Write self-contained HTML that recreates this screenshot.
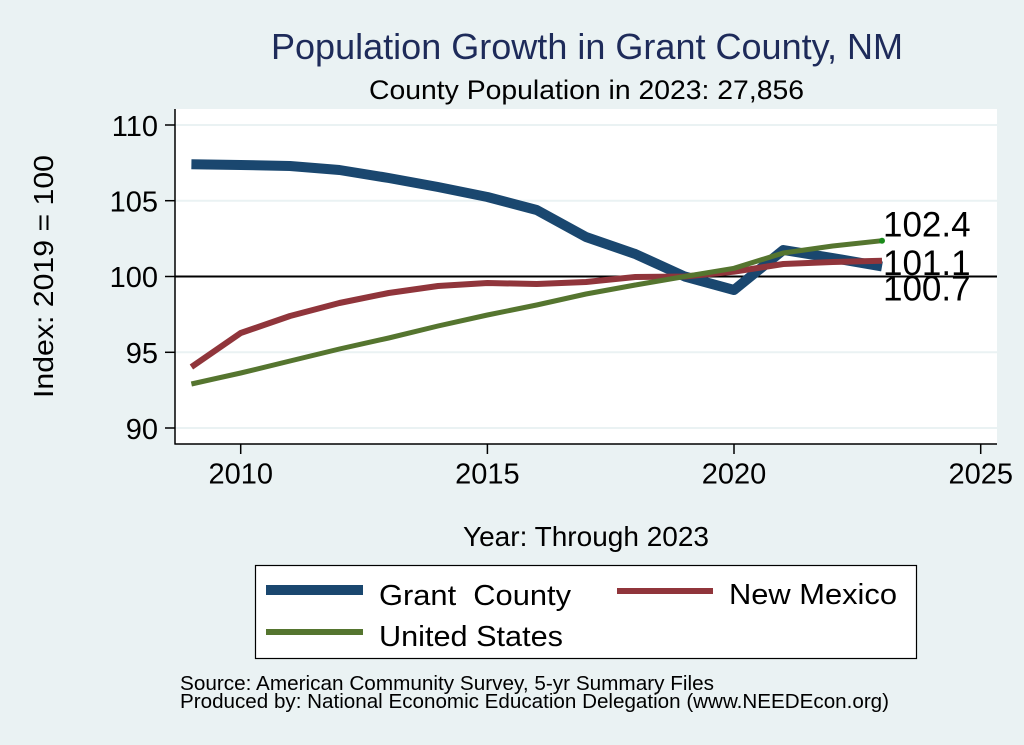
<!DOCTYPE html>
<html>
<head>
<meta charset="utf-8">
<style>
  html, body { margin:0; padding:0; background:#eaf2f3; }
  svg { display:block; }
  text { font-family: "Liberation Sans", Arial, Helvetica, sans-serif; }
</style>
</head>
<body>
<svg width="1024" height="745" viewBox="0 0 1024 745" xmlns="http://www.w3.org/2000/svg">
  <rect x="0" y="0" width="1024" height="745" fill="#eaf2f3"/>

  <!-- Title -->
  <text x="271" y="59" font-size="36" fill="#1e2b5a" textLength="632" lengthAdjust="spacingAndGlyphs">Population Growth in Grant County, NM</text>
  <text x="369" y="99" font-size="27" fill="#000" textLength="435" lengthAdjust="spacingAndGlyphs">County Population in 2023: 27,856</text>

  <!-- Plot area -->
  <rect x="175" y="109" width="822" height="335" fill="#ffffff"/>
  <!-- gridlines -->
  <g stroke="#eaf2f3" stroke-width="2">
    <line x1="175" y1="125" x2="997" y2="125"/>
    <line x1="175" y1="200.7" x2="997" y2="200.7"/>
    <line x1="175" y1="352.3" x2="997" y2="352.3"/>
    <line x1="175" y1="428" x2="997" y2="428"/>
  </g>
  <!-- y=100 reference line -->
  <line x1="175" y1="276.5" x2="997" y2="276.5" stroke="#000" stroke-width="2"/>

  <!-- axes -->
  <line x1="175" y1="109" x2="175" y2="444.5" stroke="#000" stroke-width="1.5"/>
  <line x1="174.5" y1="444" x2="997" y2="444" stroke="#000" stroke-width="1.5"/>

  <!-- y ticks -->
  <g stroke="#000" stroke-width="1.5">
    <line x1="165" y1="125" x2="175" y2="125"/>
    <line x1="165" y1="200.7" x2="175" y2="200.7"/>
    <line x1="165" y1="276.5" x2="175" y2="276.5"/>
    <line x1="165" y1="352.3" x2="175" y2="352.3"/>
    <line x1="165" y1="428" x2="175" y2="428"/>
  </g>
  <g font-size="29" fill="#000" text-anchor="end">
    <text x="158" y="136">110</text>
    <text x="158" y="211.5">105</text>
    <text x="158" y="287">100</text>
    <text x="158" y="363">95</text>
    <text x="158" y="439">90</text>
  </g>

  <!-- x ticks -->
  <g stroke="#000" stroke-width="1.5">
    <line x1="240.7" y1="444" x2="240.7" y2="454"/>
    <line x1="487.4" y1="444" x2="487.4" y2="454"/>
    <line x1="734" y1="444" x2="734" y2="454"/>
    <line x1="980.7" y1="444" x2="980.7" y2="454"/>
  </g>
  <g font-size="29" fill="#000" text-anchor="middle">
    <text x="240.7" y="483.5">2010</text>
    <text x="487.4" y="483.5">2015</text>
    <text x="734" y="483.5">2020</text>
    <text x="980.7" y="483.5">2025</text>
  </g>

  <!-- axis titles -->
  <text x="463" y="546" font-size="28" fill="#000" textLength="246" lengthAdjust="spacingAndGlyphs">Year: Through 2023</text>
  <text transform="translate(53,398) rotate(-90)" x="0" y="0" font-size="28" fill="#000" textLength="243" lengthAdjust="spacingAndGlyphs">Index: 2019 = 100</text>

  <!-- Series -->
  <polyline fill="none" stroke="#1a476f" stroke-width="10" stroke-linejoin="round" stroke-linecap="butt"
    points="191.4,164.3 240.7,165 290,166 339.4,170 388.7,178 438,187 487.4,197 536.7,210 586,237 635.3,254 684.7,276.5 734,290 783.3,250 832.7,258 882,266.5"/>
  <polyline fill="none" stroke="#90353b" stroke-width="6" stroke-linejoin="round" stroke-linecap="butt"
    points="191.4,367 240.7,333 290,316 339.4,303 388.7,293 438,286 487.4,283 536.7,284 586,282 635.3,277 684.7,276.5 734,271.7 783.3,264 832.7,262 882,260.7"/>
  <polyline fill="none" stroke="#55752f" stroke-width="5" stroke-linejoin="round" stroke-linecap="butt"
    points="191.4,384 240.7,373 290,361 339.4,349 388.7,338 438,326 487.4,315 536.7,305 586,294 635.3,285 684.7,276.5 734,268.3 783.3,253 832.7,246 882,240.7"/>
  <circle cx="882" cy="240.7" r="3" fill="#1a8a1a"/>

  <!-- end labels -->
  <g font-size="35" fill="#000">
    <text x="883" y="236.5">102.4</text>
    <text x="883" y="275">101.1</text>
    <text x="883" y="300.5">100.7</text>
  </g>

  <!-- Legend -->
  <rect x="255.5" y="565.5" width="661" height="93" fill="#ffffff" stroke="#000" stroke-width="1.2"/>
  <line x1="266" y1="590" x2="363" y2="590" stroke="#1a476f" stroke-width="10"/>
  <line x1="266" y1="632" x2="363" y2="632" stroke="#55752f" stroke-width="6"/>
  <line x1="617" y1="591" x2="713" y2="591" stroke="#90353b" stroke-width="6"/>
  <g font-size="29" fill="#000">
    <text x="379" y="605" textLength="192" lengthAdjust="spacingAndGlyphs" xml:space="preserve">Grant  County</text>
    <text x="379" y="646" textLength="184" lengthAdjust="spacingAndGlyphs">United States</text>
    <text x="729" y="604" textLength="168" lengthAdjust="spacingAndGlyphs">New Mexico</text>
  </g>

  <!-- Footnote -->
  <g font-size="20" fill="#000">
    <text x="180" y="690" textLength="534" lengthAdjust="spacingAndGlyphs">Source: American Community Survey, 5-yr Summary Files</text>
    <text x="180" y="708" textLength="709" lengthAdjust="spacingAndGlyphs">Produced by: National Economic Education Delegation (www.NEEDEcon.org)</text>
  </g>
</svg>
</body>
</html>
